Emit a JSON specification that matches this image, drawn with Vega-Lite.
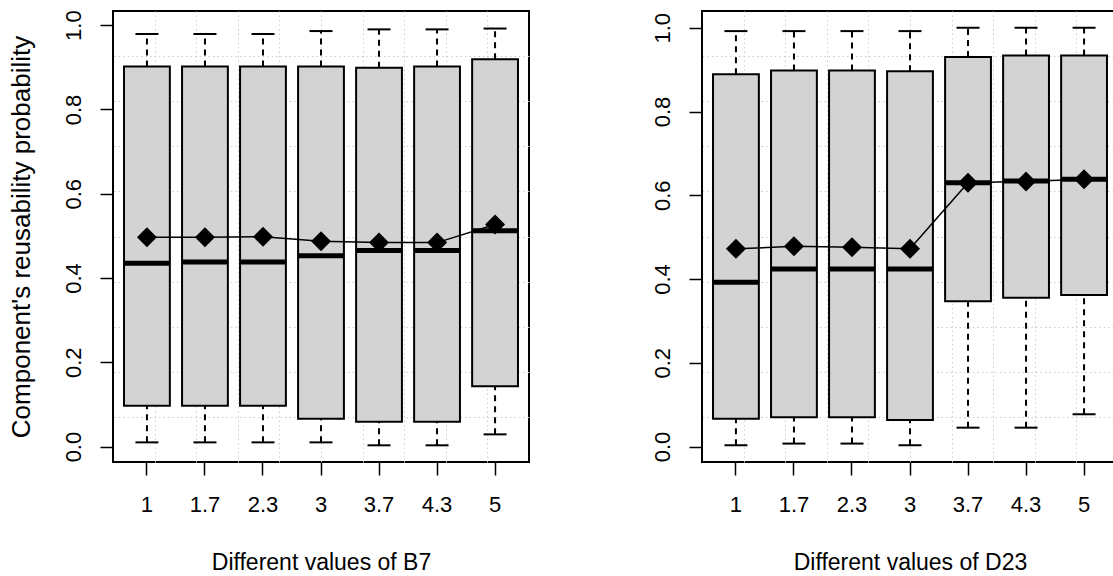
{
  "$schema": "https://vega.github.io/schema/vega-lite/v6.json",
  "padding": {"left": 7, "top": 8, "right": 0, "bottom": 0},
  "config": {
    "font": "Liberation Sans",
    "view": {"stroke": "black", "strokeWidth": 2},
    "axis": {"labelColor": "black", "titleColor": "black", "tickColor": "black", "titleFontWeight": "normal"}
  },
  "datasets": {
    "b7": [
      {"level": "1", "lo": 0.010, "q1": 0.097, "median": 0.435, "q3": 0.902, "hi": 0.979, "mean": 0.497},
      {"level": "1.7", "lo": 0.010, "q1": 0.097, "median": 0.438, "q3": 0.902, "hi": 0.979, "mean": 0.497},
      {"level": "2.3", "lo": 0.010, "q1": 0.097, "median": 0.438, "q3": 0.902, "hi": 0.979, "mean": 0.498},
      {"level": "3", "lo": 0.010, "q1": 0.066, "median": 0.453, "q3": 0.902, "hi": 0.986, "mean": 0.487},
      {"level": "3.7", "lo": 0.003, "q1": 0.059, "median": 0.465, "q3": 0.899, "hi": 0.990, "mean": 0.484},
      {"level": "4.3", "lo": 0.003, "q1": 0.059, "median": 0.465, "q3": 0.902, "hi": 0.990, "mean": 0.484},
      {"level": "5", "lo": 0.029, "q1": 0.143, "median": 0.512, "q3": 0.919, "hi": 0.992, "mean": 0.527}
    ],
    "d23": [
      {"level": "1", "lo": 0.003, "q1": 0.066, "median": 0.392, "q3": 0.889, "hi": 0.992, "mean": 0.472},
      {"level": "1.7", "lo": 0.007, "q1": 0.070, "median": 0.424, "q3": 0.898, "hi": 0.992, "mean": 0.478},
      {"level": "2.3", "lo": 0.007, "q1": 0.070, "median": 0.424, "q3": 0.898, "hi": 0.992, "mean": 0.476},
      {"level": "3", "lo": 0.003, "q1": 0.063, "median": 0.424, "q3": 0.896, "hi": 0.992, "mean": 0.472},
      {"level": "3.7", "lo": 0.045, "q1": 0.347, "median": 0.630, "q3": 0.930, "hi": 1.0, "mean": 0.630},
      {"level": "4.3", "lo": 0.045, "q1": 0.355, "median": 0.634, "q3": 0.934, "hi": 1.0, "mean": 0.633},
      {"level": "5", "lo": 0.077, "q1": 0.362, "median": 0.638, "q3": 0.934, "hi": 1.0, "mean": 0.638}
    ]
  },
  "spacing": 119,
  "hconcat": [
    {
      "width": 416,
      "height": 451,
      "data": {"name": "b7"},
      "resolve": {"scale": {"x": "independent", "y": "independent"}, "axis": {"x": "independent", "y": "independent"}},
      "layer": [
        {
          "mark": {"type": "point", "opacity": 0},
          "encoding": {
            "x": {"datum": 0, "type": "quantitative", "scale": {"domain": [0, 10], "nice": false, "zero": false},
                  "axis": {"orient": "top", "values": [1, 2, 3, 4, 5, 6, 7, 8, 9], "grid": true, "gridColor": "#cccccc", "gridDash": [1.5, 3], "gridWidth": 1, "labels": false, "ticks": false, "domain": false, "title": null}},
            "y": {"datum": 0, "type": "quantitative", "scale": {"domain": [0, 10], "nice": false, "zero": false},
                  "axis": {"orient": "right", "values": [1, 2, 3, 4, 5, 6, 7, 8, 9], "grid": true, "gridColor": "#cccccc", "gridDash": [1.5, 3], "gridWidth": 1, "labels": false, "ticks": false, "domain": false, "title": null}}
          }
        },
        {
          "encoding": {
            "x": {"field": "level", "type": "nominal", "sort": null,
                  "scale": {"paddingInner": 0.21, "paddingOuter": 0.19},
                  "axis": {"orient": "bottom", "title": "Different values of B7", "domain": false, "grid": false, "tickSize": 13, "tickWidth": 1.5, "labelAngle": 0, "labelFontSize": 22, "labelPadding": 19, "titleFontSize": 23, "titlePadding": 36}}
          },
          "layer": [
            {
              "mark": {"type": "rule", "color": "black", "strokeWidth": 2, "strokeDash": [6, 5]},
              "encoding": {
                "y": {"field": "q3", "type": "quantitative", "scale": {"domain": [-0.0366, 1.0336], "nice": false, "zero": false},
                      "axis": {"orient": "left", "values": [0, 0.2, 0.4, 0.6, 0.8, 1], "format": ".1f", "title": "Component's reusability probability", "domain": false, "grid": false, "tickSize": 13, "tickWidth": 1.5, "labelAngle": 270, "labelAlign": "center", "labelBaseline": "bottom", "labelPadding": 15, "labelFontSize": 22, "titleFontSize": 26, "titlePadding": 28}},
                "y2": {"field": "hi"}
              }
            },
            {
              "mark": {"type": "rule", "color": "black", "strokeWidth": 2, "strokeDash": [6, 5]},
              "encoding": {"y": {"field": "lo", "type": "quantitative"}, "y2": {"field": "q1"}}
            },
            {
              "mark": {"type": "tick", "color": "black", "opacity": 1, "size": 23, "thickness": 2},
              "encoding": {"y": {"field": "hi", "type": "quantitative"}}
            },
            {
              "mark": {"type": "tick", "color": "black", "opacity": 1, "size": 23, "thickness": 2},
              "encoding": {"y": {"field": "lo", "type": "quantitative"}}
            },
            {
              "mark": {"type": "bar", "fill": "#d3d3d3", "opacity": 1, "stroke": "black", "strokeWidth": 2},
              "encoding": {"y": {"field": "q1", "type": "quantitative"}, "y2": {"field": "q3"}}
            },
            {
              "mark": {"type": "tick", "color": "black", "opacity": 1, "thickness": 5, "size": 46},
              "encoding": {"y": {"field": "median", "type": "quantitative"}}
            },
            {
              "mark": {"type": "line", "color": "black", "strokeWidth": 1.5},
              "encoding": {"y": {"field": "mean", "type": "quantitative"}}
            },
            {
              "mark": {"type": "point", "shape": "diamond", "filled": true, "color": "black", "opacity": 1, "size": 400},
              "encoding": {"y": {"field": "mean", "type": "quantitative"}}
            }
          ]
        }
      ]
    },
    {
      "width": 416,
      "height": 451,
      "data": {"name": "d23"},
      "resolve": {"scale": {"x": "independent", "y": "independent"}, "axis": {"x": "independent", "y": "independent"}},
      "layer": [
        {
          "mark": {"type": "point", "opacity": 0},
          "encoding": {
            "x": {"datum": 0, "type": "quantitative", "scale": {"domain": [0, 10], "nice": false, "zero": false},
                  "axis": {"orient": "top", "values": [1, 2, 3, 4, 5, 6, 7, 8, 9], "grid": true, "gridColor": "#cccccc", "gridDash": [1.5, 3], "gridWidth": 1, "labels": false, "ticks": false, "domain": false, "title": null}},
            "y": {"datum": 0, "type": "quantitative", "scale": {"domain": [0, 10], "nice": false, "zero": false},
                  "axis": {"orient": "right", "values": [1, 2, 3, 4, 5, 6, 7, 8, 9], "grid": true, "gridColor": "#cccccc", "gridDash": [1.5, 3], "gridWidth": 1, "labels": false, "ticks": false, "domain": false, "title": null}}
          }
        },
        {
          "encoding": {
            "x": {"field": "level", "type": "nominal", "sort": null,
                  "scale": {"paddingInner": 0.21, "paddingOuter": 0.19},
                  "axis": {"orient": "bottom", "title": "Different values of D23", "domain": false, "grid": false, "tickSize": 13, "tickWidth": 1.5, "labelAngle": 0, "labelFontSize": 22, "labelPadding": 19, "titleFontSize": 23, "titlePadding": 36}}
          },
          "layer": [
            {
              "mark": {"type": "rule", "color": "black", "strokeWidth": 2, "strokeDash": [6, 5]},
              "encoding": {
                "y": {"field": "q3", "type": "quantitative", "scale": {"domain": [-0.037, 1.04], "nice": false, "zero": false},
                      "axis": {"orient": "left", "values": [0, 0.2, 0.4, 0.6, 0.8, 1], "format": ".1f", "title": null, "domain": false, "grid": false, "tickSize": 13, "tickWidth": 1.5, "labelAngle": 270, "labelAlign": "center", "labelBaseline": "bottom", "labelPadding": 15, "labelFontSize": 22}},
                "y2": {"field": "hi"}
              }
            },
            {
              "mark": {"type": "rule", "color": "black", "strokeWidth": 2, "strokeDash": [6, 5]},
              "encoding": {"y": {"field": "lo", "type": "quantitative"}, "y2": {"field": "q1"}}
            },
            {
              "mark": {"type": "tick", "color": "black", "opacity": 1, "size": 23, "thickness": 2},
              "encoding": {"y": {"field": "hi", "type": "quantitative"}}
            },
            {
              "mark": {"type": "tick", "color": "black", "opacity": 1, "size": 23, "thickness": 2},
              "encoding": {"y": {"field": "lo", "type": "quantitative"}}
            },
            {
              "mark": {"type": "bar", "fill": "#d3d3d3", "opacity": 1, "stroke": "black", "strokeWidth": 2},
              "encoding": {"y": {"field": "q1", "type": "quantitative"}, "y2": {"field": "q3"}}
            },
            {
              "mark": {"type": "tick", "color": "black", "opacity": 1, "thickness": 5, "size": 46},
              "encoding": {"y": {"field": "median", "type": "quantitative"}}
            },
            {
              "mark": {"type": "line", "color": "black", "strokeWidth": 1.5},
              "encoding": {"y": {"field": "mean", "type": "quantitative"}}
            },
            {
              "mark": {"type": "point", "shape": "diamond", "filled": true, "color": "black", "opacity": 1, "size": 400},
              "encoding": {"y": {"field": "mean", "type": "quantitative"}}
            }
          ]
        }
      ]
    }
  ]
}
